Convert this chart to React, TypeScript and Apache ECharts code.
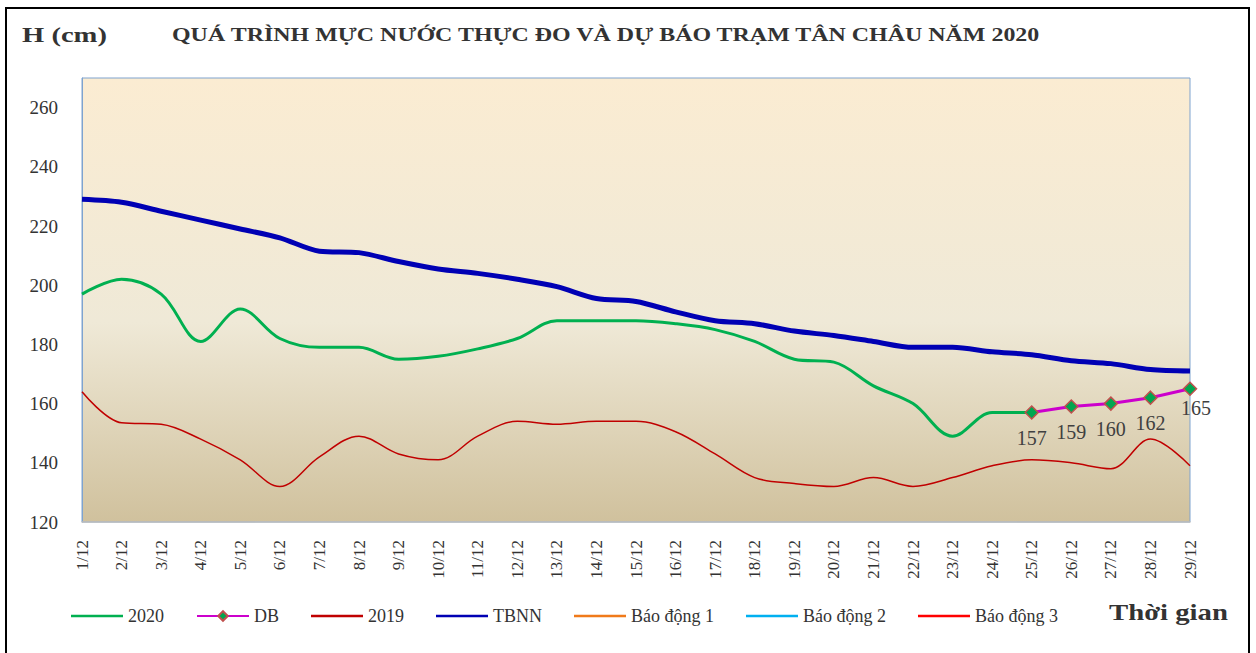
import React, { useEffect, useRef } from "react";
import * as echarts from "echarts";

const categories = [
  "1/12", "2/12", "3/12", "4/12", "5/12", "6/12", "7/12", "8/12", "9/12", "10/12",
  "11/12", "12/12", "13/12", "14/12", "15/12", "16/12", "17/12", "18/12", "19/12", "20/12",
  "21/12", "22/12", "23/12", "24/12", "25/12", "26/12", "27/12", "28/12", "29/12",
];

const s2020: (number | null)[] = [
  197, 202, 197, 181, 192, 182, 179, 179, 175, 176,
  178.5, 182, 188, 188, 188, 187, 185, 181, 175, 174,
  166, 160, 149, 157, 157, null, null, null, null,
];

const sDB: (number | null)[] = [
  null, null, null, null, null, null, null, null, null, null,
  null, null, null, null, null, null, null, null, null, null,
  null, null, null, null, 157, 159, 160, 162, 165,
];

const s2019: number[] = [
  164, 153.5, 153, 148, 141, 132, 142, 149, 143, 141,
  149, 154, 153, 154, 154, 150.5, 143, 135, 133, 132,
  135, 132, 135, 139, 141, 140, 138, 148, 139,
];

const sTBNN: number[] = [
  229, 228, 225, 222, 219, 216, 211.5, 211, 208, 205.5,
  204, 202, 199.5, 195.5, 194.5, 191, 188, 187, 184.5, 183,
  181, 179, 179, 177.5, 176.5, 174.5, 173.5, 171.5, 171,
];

const alarm1 = 350;
const alarm2 = 400;
const alarm3 = 450;

const yTicks = [120, 140, 160, 180, 200, 220, 240, 260];

const legendNames = ["2020", "DB", "2019", "TBNN", "Báo động 1", "Báo động 2", "Báo động 3"];

const FONT = "'Liberation Serif', 'Times New Roman', serif";
const LINE_ICON = "path://M0,0H52V2.6H0Z";

export default function App() {
  const ref = useRef<HTMLDivElement>(null);
  useEffect(() => {
    if (!ref.current) return;
    const chart = echarts.init(ref.current, null, { renderer: "svg" });
    const flat = (v: number) => categories.map(() => v);
    chart.setOption({
      animation: false,
      backgroundColor: "#ffffff",
      textStyle: { fontFamily: FONT },
      grid: {
        left: 82,
        right: 66,
        top: 78,
        bottom: 131,
        show: true,
        borderColor: "#7ea3cf",
        borderWidth: 1,
        backgroundColor: new echarts.graphic.LinearGradient(0, 0, 0, 1, [
          { offset: 0, color: "#fbecd2" },
          { offset: 0.55, color: "#efe9d7" },
          { offset: 1, color: "#d0c19d" },
        ]),
      },
      graphic: [
        {
          type: "rect",
          shape: { x: 6, y: 8, width: 1243, height: 700 },
          style: { fill: "none", stroke: "#000", lineWidth: 2 },
          silent: true,
        },
        {
          type: "text",
          x: 22,
          y: 24,
          scaleX: 1.3,
          style: { text: "H (cm)", font: `bold 22px ${FONT}`, fill: "#333", verticalAlign: "top" },
        },
        {
          type: "text",
          x: 172,
          y: 25,
          scaleX: 1.26,
          style: {
            text: "QUÁ TRÌNH MỰC NƯỚC THỰC ĐO VÀ DỰ BÁO TRẠM TÂN CHÂU NĂM 2020",
            font: `bold 19px ${FONT}`,
            fill: "#333",
            verticalAlign: "top",
          },
        },
        {
          type: "text",
          x: 1109,
          y: 601,
          scaleX: 1.25,
          style: { text: "Thời gian", font: `bold 23px ${FONT}`, fill: "#333", verticalAlign: "top" },
        },
      ],
      legend: {
        left: 66,
        top: 602,
        itemWidth: 52,
        itemHeight: 12,
        itemGap: 32,
        textStyle: { fontFamily: FONT, fontSize: 18, color: "#333" },
        data: legendNames.map((n) => (n === "DB" ? { name: n } : { name: n, icon: LINE_ICON })),
      },
      xAxis: {
        type: "category",
        data: categories,
        boundaryGap: false,
        axisLine: { lineStyle: { color: "#bfbfbf", width: 1.5 } },
        axisTick: { show: false },
        axisLabel: {
          rotate: 90,
          margin: 18,
          fontFamily: FONT,
          fontSize: 17,
          color: "#333",
          interval: 0,
        },
      },
      yAxis: {
        type: "value",
        min: 120,
        max: 270,
        interval: 20,
        axisLine: { show: true, lineStyle: { color: "#7ea3cf" } },
        axisTick: { show: false },
        splitLine: { show: false },
        axisLabel: {
          margin: 24,
          fontFamily: FONT,
          fontSize: 19,
          color: "#333",
          formatter: (v: number) => (yTicks.includes(v) ? String(v) : ""),
        },
      },
      series: [
        {
          name: "2020",
          type: "line",
          data: s2020,
          smooth: 0.35,
          symbol: "none",
          z: 3,
          lineStyle: { color: "#00b050", width: 3 },
          itemStyle: { color: "#00b050" },
        },
        {
          name: "DB",
          type: "line",
          data: sDB,
          symbol: "diamond",
          symbolSize: 13,
          z: 5,
          lineStyle: { color: "#cc00cc", width: 3 },
          itemStyle: { color: "#00a650", borderColor: "#c0504d", borderWidth: 1.5 },
          label: {
            show: true,
            position: "bottom",
            distance: 8,
            fontFamily: FONT,
            fontSize: 20,
            color: "#404040",
          },
          labelLayout: (p: any) => (p.dataIndex === 28 ? { dx: 6, dy: -6 } : {}),
        },
        {
          name: "2019",
          type: "line",
          data: s2019,
          smooth: 0.35,
          symbol: "none",
          z: 2,
          lineStyle: { color: "#c00000", width: 1.5 },
          itemStyle: { color: "#c00000" },
        },
        {
          name: "TBNN",
          type: "line",
          data: sTBNN,
          smooth: 0.3,
          symbol: "none",
          z: 2,
          lineStyle: { color: "#0000b4", width: 5 },
          itemStyle: { color: "#0000b4" },
        },
        {
          name: "Báo động 1",
          type: "line",
          data: flat(alarm1),
          symbol: "none",
          clip: true,
          lineStyle: { color: "#f07a1a", width: 2 },
          itemStyle: { color: "#f07a1a" },
        },
        {
          name: "Báo động 2",
          type: "line",
          data: flat(alarm2),
          symbol: "none",
          clip: true,
          lineStyle: { color: "#00b0f0", width: 2 },
          itemStyle: { color: "#00b0f0" },
        },
        {
          name: "Báo động 3",
          type: "line",
          data: flat(alarm3),
          symbol: "none",
          clip: true,
          lineStyle: { color: "#ff0000", width: 2 },
          itemStyle: { color: "#ff0000" },
        },
      ],
    });
    return () => chart.dispose();
  }, []);
  return (
    <div
      ref={ref}
      style={{ position: "fixed", left: 0, top: 0, width: 1256, height: 653 }}
    />
  );
}
